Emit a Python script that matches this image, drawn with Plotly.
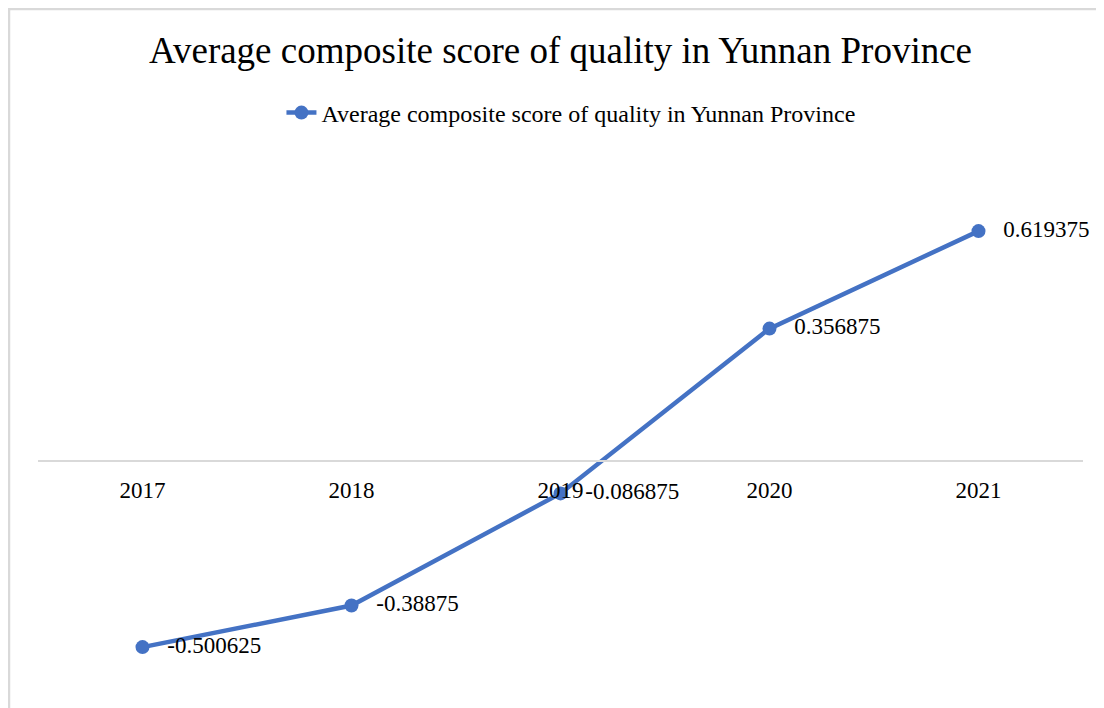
import plotly.graph_objects as go

years = ["2017", "2018", "2019", "2020", "2021"]
scores = [-0.500625, -0.38875, -0.086875, 0.356875, 0.619375]
labels = ["-0.500625", "-0.38875", "-0.086875", "0.356875", "0.619375"]
series_name = "Average composite score of quality in Yunnan Province"
title_text = "Average composite score of quality in Yunnan Province"

FONT = "Liberation Serif, Times New Roman, serif"
BLUE = "#4472C4"

# page body has an 8px offset; layout numbers below are in figure pixels
y_lo, y_hi = -0.6, 0.8
top, bottom, left, right = 156, 32, 30, 29
H, W = 708, 1104
plot_h = H - top - bottom
plot_w = W - left - right

fig = go.Figure()
fig.add_trace(go.Scatter(
    x=years, y=scores, mode="lines+markers", name=series_name,
    line=dict(color=BLUE, width=4.5),
    marker=dict(color=BLUE, size=14),
    showlegend=True, hoverinfo="x+y",
))
# data labels (transparent wide markers push the text to the right)
fig.add_trace(go.Scatter(
    x=years, y=scores, mode="markers+text", text=labels,
    textposition="middle right",
    textfont=dict(family=FONT, size=23, color="black"),
    marker=dict(size=38, color="rgba(0,0,0,0)"),
    showlegend=False, hoverinfo="skip", cliponaxis=False,
))

zero_pos = (0 - y_lo) / (y_hi - y_lo)

fig.update_layout(
    width=W, height=H,
    paper_bgcolor="white", plot_bgcolor="white",
    margin=dict(l=left, r=right, t=top, b=bottom),
    font=dict(family=FONT, color="black"),
    title=dict(text=title_text, x=0.5, xanchor="center", xref="paper",
               y=1 - 42 / H, yref="container", yanchor="middle",
               font=dict(family=FONT, size=37, color="black")),
    legend=dict(orientation="h", x=0.51, xanchor="center",
                y=(H - bottom - 105) / plot_h, yanchor="middle",
                font=dict(family=FONT, size=24, color="black"),
                bgcolor="rgba(0,0,0,0)"),
    xaxis=dict(type="category", range=[-0.5, 4.5], anchor="free", position=zero_pos,
               showline=True, linecolor="#D9D9D9", linewidth=1.5,
               showgrid=False, zeroline=False, ticks="",
               ticklabelstandoff=9,
               tickfont=dict(family=FONT, size=23, color="black")),
    yaxis=dict(range=[y_lo, y_hi], showticklabels=False, showline=False,
               ticks="", showgrid=False, zeroline=False),
    shapes=[dict(type="rect", xref="paper", yref="paper",
                 x0=(1 - left) / plot_w, x1=1.2,
                 y0=-0.3, y1=(H - bottom - 1) / plot_h,
                 line=dict(color="#D9D9D9", width=2.5), fillcolor="rgba(0,0,0,0)",
                 layer="below")],
)

fig.write_html("out.html")
